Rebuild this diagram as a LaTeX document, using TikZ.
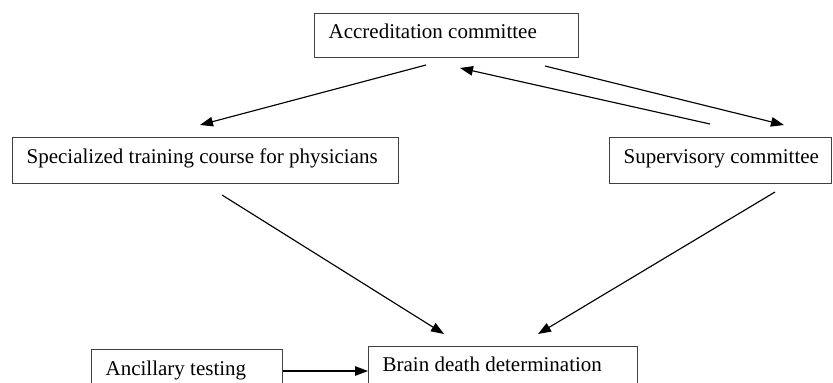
\documentclass[tikz,border=0pt]{standalone}
\usepackage{fontspec}
\setmainfont{Liberation Serif}
\usetikzlibrary{arrows.meta}
\newcommand{\boxtext}[2]{\makebox[#1][l]{#2}}
\tikzset{
  boxnode/.style={draw=black!75, line width=1.3pt, rectangle, anchor=north west,
    inner xsep=14pt, inner ysep=0pt,
    font=\fontsize{21}{24}\selectfont, text height=0.72em, text depth=0.2em},
  conn/.style={draw=black, line width=1.15pt, -{Triangle[length=13pt,width=9.5pt]}}
}
\begin{document}
\begin{tikzpicture}[x=1pt,y=-1pt]
\useasboundingbox (0,0) rectangle (833,383);
\node[boxnode, minimum height=44pt] (acc) at (314,13) {\boxtext{236pt}{Accreditation committee}};
\node[boxnode, minimum height=46pt] (spec) at (12,137) {\boxtext{358pt}{Specialized training course for physicians}};
\node[boxnode, minimum height=46pt] (sup) at (609,137) {\boxtext{194pt}{Supervisory committee}};
\node[boxnode, minimum height=47pt] (anc) at (91,349) {\boxtext{163pt}{Ancillary testing}};
\node[boxnode, minimum height=45pt] (brain) at (368,346) {\boxtext{241pt}{Brain death determination}};
% connector end points (free ends beside the boxes)
\coordinate (accL) at (426,65);
\coordinate (specT) at (200,125);
\coordinate (supT1) at (710,124);
\coordinate (accM) at (460,68);
\coordinate (accR) at (545,66);
\coordinate (supT2) at (784,125);
\coordinate (specB) at (222,195);
\coordinate (brainL) at (444,334);
\coordinate (supB) at (775,192);
\coordinate (brainR) at (538,334);
\draw[conn] (accL) -- (specT);
\draw[conn] (supT1) -- (accM);
\draw[conn] (accR) -- (supT2);
\draw[conn] (specB) -- (brainL);
\draw[conn] (supB) -- (brainR);
\draw[conn] (anc.east |- 0,371) -- (brain.west |- 0,371);
\end{tikzpicture}
\end{document}
